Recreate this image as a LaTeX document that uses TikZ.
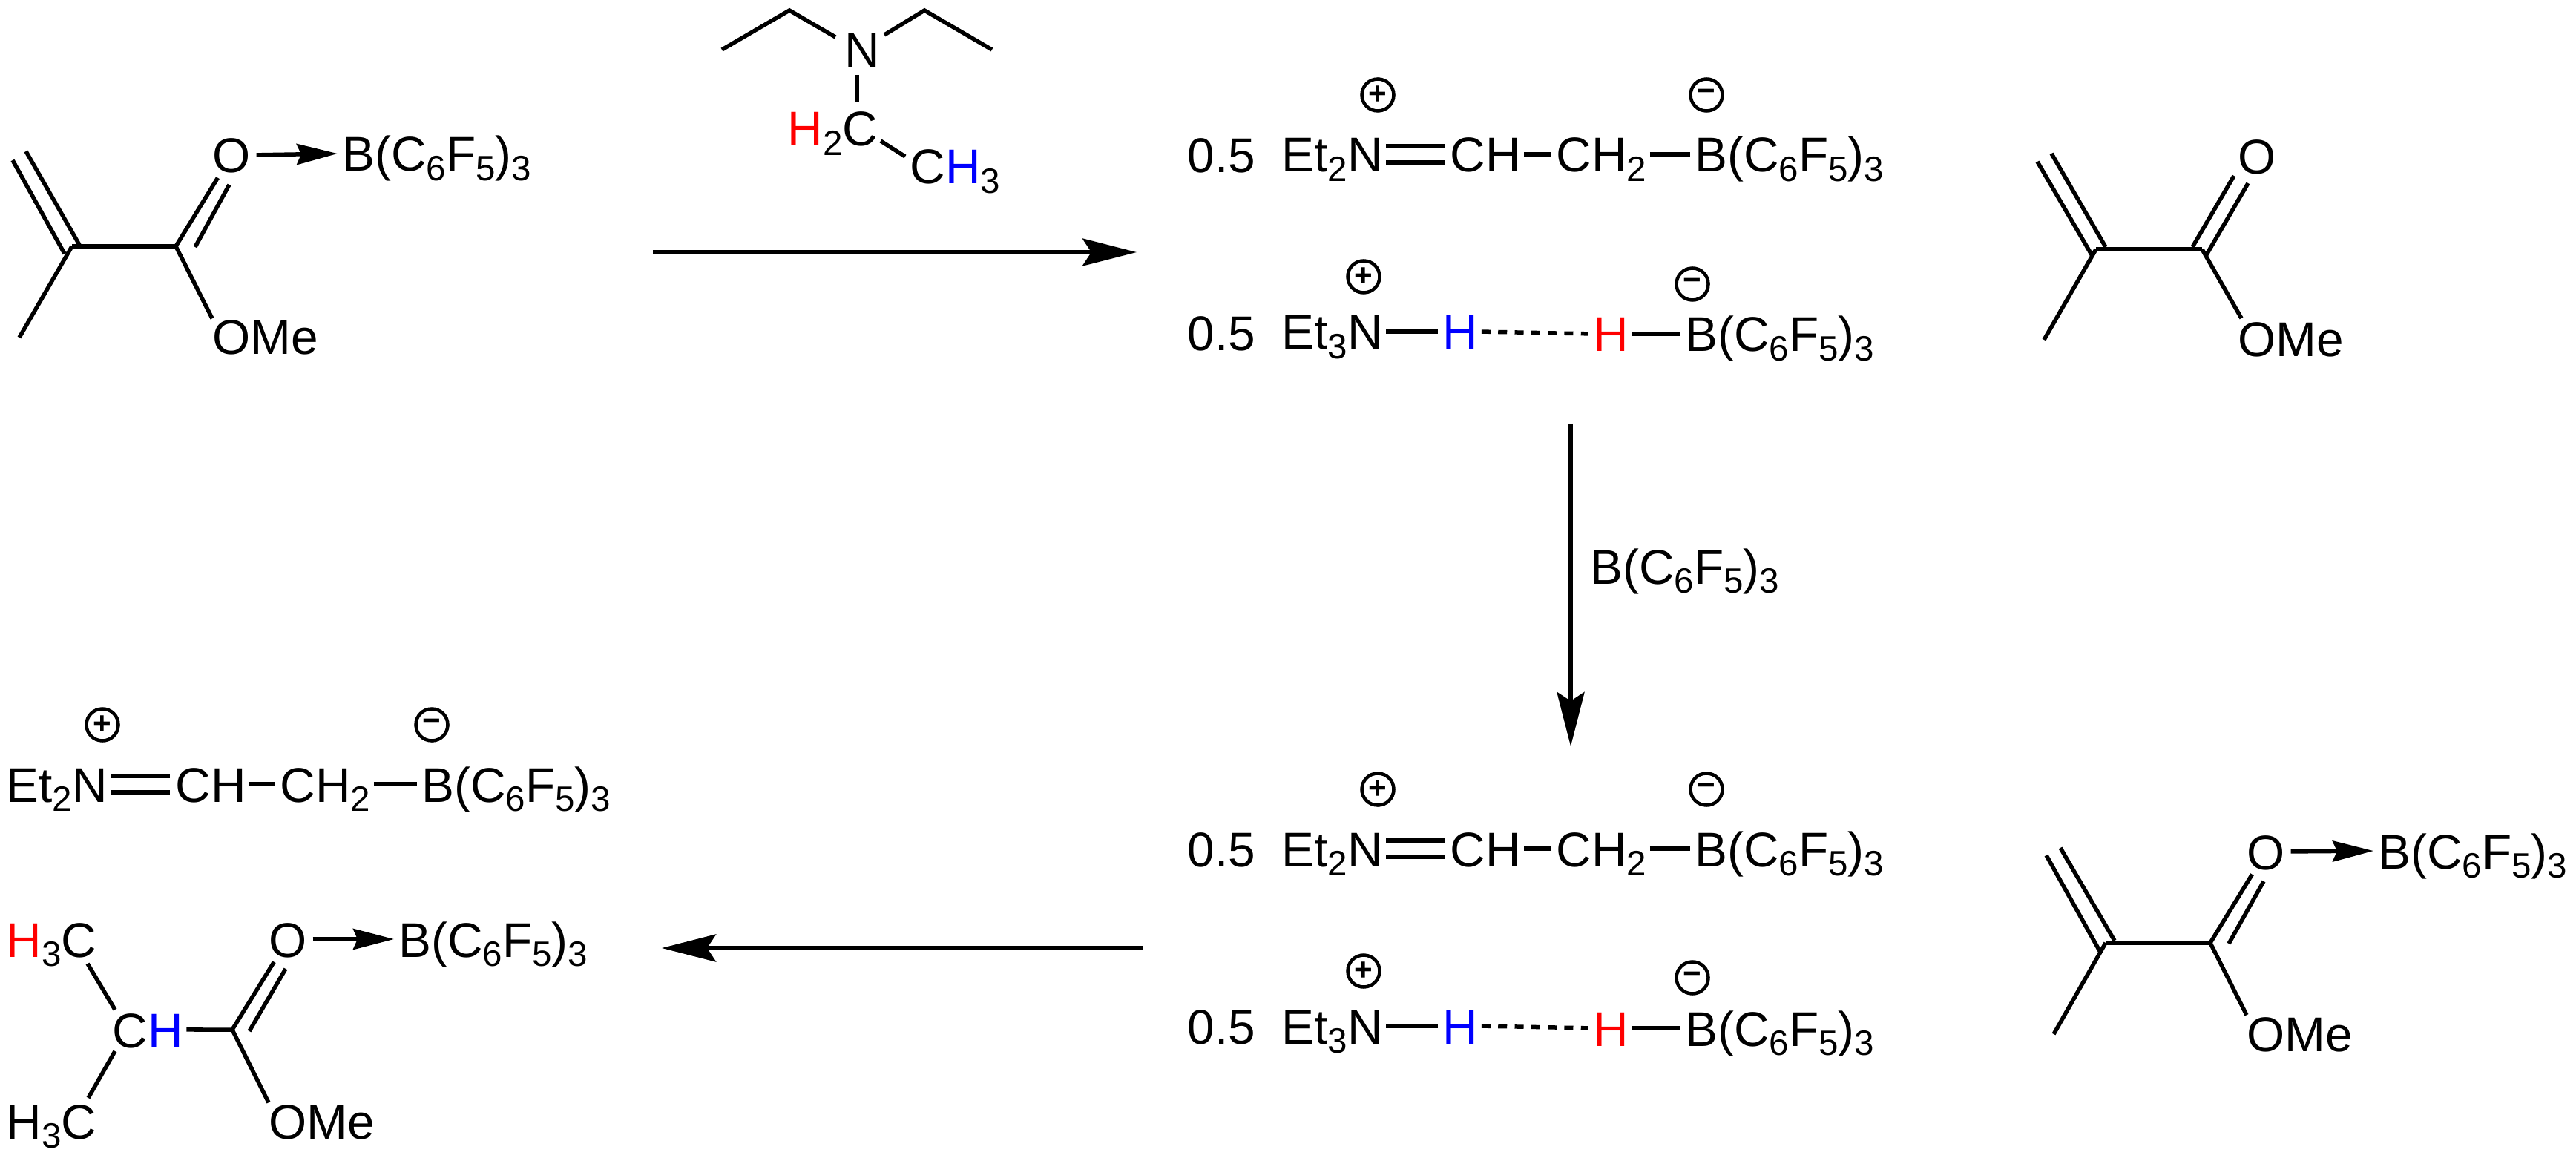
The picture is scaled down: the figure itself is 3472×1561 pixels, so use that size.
\documentclass[tikz,border=0pt]{standalone}
\usepackage{fontspec}
\setmainfont{Liberation Sans}
\usetikzlibrary{arrows.meta}
\newcommand{\chsub}[1]{\raisebox{-0.19em}{\fontsize{13.5}{15}\selectfont #1}}
\newcommand{\borane}{B(C\chsub{6}F\chsub{5})\chsub{3}}
\tikzset{
  lab/.style={inner sep=0pt,anchor=base west,text height=0.48cm,text depth=0pt,font=\fontsize{18.7}{22}\selectfont},
  chg/.style={draw,circle,line width=0.045cm,inner sep=0pt,minimum size=0.43cm,font=\bfseries\fontsize{12}{13}\selectfont},
  bond/.style={line width=0.055cm},
  gap/.style={bond,shorten <=0.04cm,shorten >=0.065cm},
  gapo/.style={bond,shorten >=0.07cm},
  dbl/.style={gap,double,double distance=0.165cm},
  hbond/.style={gap,dash pattern=on 0.12cm off 0.103cm},
  dat/.style={bond,-{Stealth[length=0.55cm,width=0.28cm,inset=0.06cm]},shorten <=0.07cm,shorten >=0.06cm},
  rxn/.style={line width=0.055cm,-{Stealth[length=0.73cm,width=0.37cm,inset=0.12cm]}}
}
\begin{document}
\begin{tikzpicture}[x=0.01cm,y=-0.01cm]
\useasboundingbox (0,0) rectangle (3472,1561);
% starting ester with borane
\coordinate (vaa) at (97,332);
\coordinate (vba) at (237,332);
\coordinate (ena) at (17,216);
\coordinate (enb) at (35,204);
\coordinate (enc) at (107,330);
\coordinate (end) at (87,342);
\coordinate (mea) at (26,455);
\coordinate (dba) at (263,333);
\coordinate (dbb) at (309,249);
\node[lab] (oa) at (286,233) {O};
\node[lab] (boa) at (461,231) {\borane};
\node[lab] (omea) at (286,478) {OMe};
\draw[bond] (ena)--(end);
\draw[bond] (enb)--(enc);
\draw[bond] (vaa)--(vba);
\draw[bond] (vaa)--(mea);
\draw[gapo] (vba)--(oa);
\draw[bond] (dba)--(dbb);
\draw[bond] (vba)--(omea.north west);
\draw[dat] (oa.east)--(boa.west);
% triethylamine
\coordinate (ela) at (973,67);
\coordinate (elb) at (1064,14);
\coordinate (elc) at (1126,50);
\coordinate (era) at (1192,47);
\coordinate (erb) at (1246,14);
\coordinate (erc) at (1337,67);
\coordinate (ndn) at (1155,101);
\coordinate (cup) at (1155,138);
\coordinate (cra) at (1187,190);
\coordinate (crb) at (1220,211);
\node[lab] (nam) at (1138,91) {N};
\node[lab] (hcc) at (1061,197) {\textcolor{red}{H}\chsub{2}C};
\node[lab] (chm) at (1226,248) {C\textcolor{blue}{H}\chsub{3}};
\draw[bond] (ela)--(elb)--(elc);
\draw[bond] (era)--(erb)--(erc);
\draw[bond] (ndn)--(cup);
\draw[bond] (cra)--(crb);
\coordinate (rxa) at (880,340);
\coordinate (rxb) at (1532,340);
\draw[rxn] (rxa)--(rxb);
% top products
\node[lab] (hfa) at (1600,233) {0.5};
\node[lab] (eta) at (1727,232) {Et\chsub{2}N};
\node[lab] (cha) at (1954,232) {CH};
\node[lab] (cta) at (2097,232) {CH\chsub{2}};
\node[lab] (bra) at (2284,232) {\borane};
\node[chg] (pla) at (1857,128) {+};
\node[chg] (mia) at (2300,128) {−};
\draw[dbl] (eta.east)--(cha.west);
\draw[gap] (cha.east)--(cta.west);
\draw[gap] (cta.east)--(bra.west);
\node[lab] (hfb) at (1600,472) {0.5};
\node[lab] (etb) at (1727,471) {Et\chsub{3}N};
\node[lab,text=blue] (hba) at (1944,471) {H};
\node[lab,text=red] (hbb) at (2147,474) {H};
\node[lab] (brb) at (2271,474) {\borane};
\node[chg] (plb) at (1838,373) {+};
\node[chg] (mib) at (2281,383) {−};
\draw[gap] (etb.east)--(hba.west);
\draw[hbond] (hba.east)--(hbb.west);
\draw[gap] (hbb.east)--(brb.west);
% free ester
\coordinate (vac) at (2825,336);
\coordinate (vbc) at (2968,336);
\coordinate (enf) at (2746,218);
\coordinate (enh) at (2820,345);
\coordinate (eng) at (2765,207);
\coordinate (enk) at (2838,333);
\coordinate (mec) at (2755,458);
\coordinate (dbc) at (2955,333);
\coordinate (dbd) at (3011,237);
\coordinate (dbe) at (2973,345);
\coordinate (dbf) at (3030,247);
\coordinate (omt) at (3021,429);
\node[lab] (oc) at (3016,235) {O};
\node[lab] (omec) at (3016,481) {OMe};
\draw[bond] (enf)--(enh);
\draw[bond] (eng)--(enk);
\draw[bond] (vac)--(vbc);
\draw[bond] (vac)--(mec);
\draw[bond] (dbc)--(dbd);
\draw[bond] (dbe)--(dbf);
\draw[bond] (vbc)--(omt);
% borane addition
\coordinate (rxc) at (2117,571);
\coordinate (rxd) at (2117,1006);
\draw[rxn] (rxc)--(rxd);
\node[lab] (brc) at (2143,787) {\borane};
% lower products
\node[lab] (hfc) at (1600,1168) {0.5};
\node[lab] (etc) at (1727,1168) {Et\chsub{2}N};
\node[lab] (chc) at (1954,1168) {CH};
\node[lab] (ctc) at (2097,1168) {CH\chsub{2}};
\node[lab] (brd) at (2284,1168) {\borane};
\node[chg] (plc) at (1857,1064) {+};
\node[chg] (mic) at (2300,1064) {−};
\draw[dbl] (etc.east)--(chc.west);
\draw[gap] (chc.east)--(ctc.west);
\draw[gap] (ctc.east)--(brd.west);
\node[lab] (hfd) at (1600,1407) {0.5};
\node[lab] (etd) at (1727,1407) {Et\chsub{3}N};
\node[lab,text=blue] (hda) at (1944,1407) {H};
\node[lab,text=red] (hdb) at (2147,1410) {H};
\node[lab] (bre) at (2271,1410) {\borane};
\node[chg] (pld) at (1838,1309) {+};
\node[chg] (mid) at (2281,1318) {−};
\draw[gap] (etd.east)--(hda.west);
\draw[hbond] (hda.east)--(hdb.west);
\draw[gap] (hdb.east)--(bre.west);
% complexed ester
\coordinate (vae) at (2838,1271);
\coordinate (vbe) at (2979,1271);
\coordinate (ene) at (2758,1153);
\coordinate (enl) at (2830,1282);
\coordinate (enm) at (2777,1143);
\coordinate (enn) at (2850,1268);
\coordinate (mee) at (2768,1394);
\coordinate (dbm) at (3004,1272);
\coordinate (dbn) at (3051,1188);
\node[lab] (od) at (3028,1172) {O};
\node[lab] (bof) at (3205,1171) {\borane};
\node[lab] (omed) at (3028,1417) {OMe};
\draw[bond] (ene)--(enl);
\draw[bond] (enm)--(enn);
\draw[bond] (vae)--(vbe);
\draw[bond] (vae)--(mee);
\draw[gapo] (vbe)--(od);
\draw[bond] (dbm)--(dbn);
\draw[bond] (vbe)--(omed.north west);
\draw[dat] (od.east)--(bof.west);
\coordinate (rxe) at (1541,1278);
\coordinate (rxf) at (892,1278);
\draw[rxn] (rxe)--(rxf);
% final product
\node[lab] (eth) at (8,1081) {Et\chsub{2}N};
\node[lab] (chh) at (236,1081) {CH};
\node[lab] (cth) at (377,1081) {CH\chsub{2}};
\node[lab] (brh) at (568,1081) {\borane};
\node[chg] (plh) at (138,977) {+};
\node[chg] (mih) at (582,977) {−};
\draw[dbl] (eth.east)--(chh.west);
\draw[gap] (chh.east)--(cth.west);
\draw[gap] (cth.east)--(brh.west);
\coordinate (vbi) at (313,1388);
\coordinate (dbp) at (336,1390);
\coordinate (dbq) at (385,1306);
\coordinate (tua) at (118,1299);
\coordinate (tub) at (155,1361);
\coordinate (tuc) at (155,1417);
\coordinate (tud) at (119,1480);
\node[lab] (hci) at (8,1290) {\textcolor{red}{H}\chsub{3}C};
\node[lab] (hcj) at (8,1535) {H\chsub{3}C};
\node[lab] (chi) at (151,1412) {C\textcolor{blue}{H}};
\node[lab] (oi) at (362,1290) {O};
\node[lab] (boi) at (537,1290) {\borane};
\node[lab] (omei) at (362,1535) {OMe};
\draw[bond] (tua)--(tub);
\draw[bond] (tuc)--(tud);
\draw[bond,shorten <=0.04cm] (chi.east)--(vbi);
\draw[gapo] (vbi)--(oi);
\draw[bond] (dbp)--(dbq);
\draw[bond] (vbi)--(omei.north west);
\draw[dat] (oi.east)--(boi.west);
\end{tikzpicture}
\end{document}
